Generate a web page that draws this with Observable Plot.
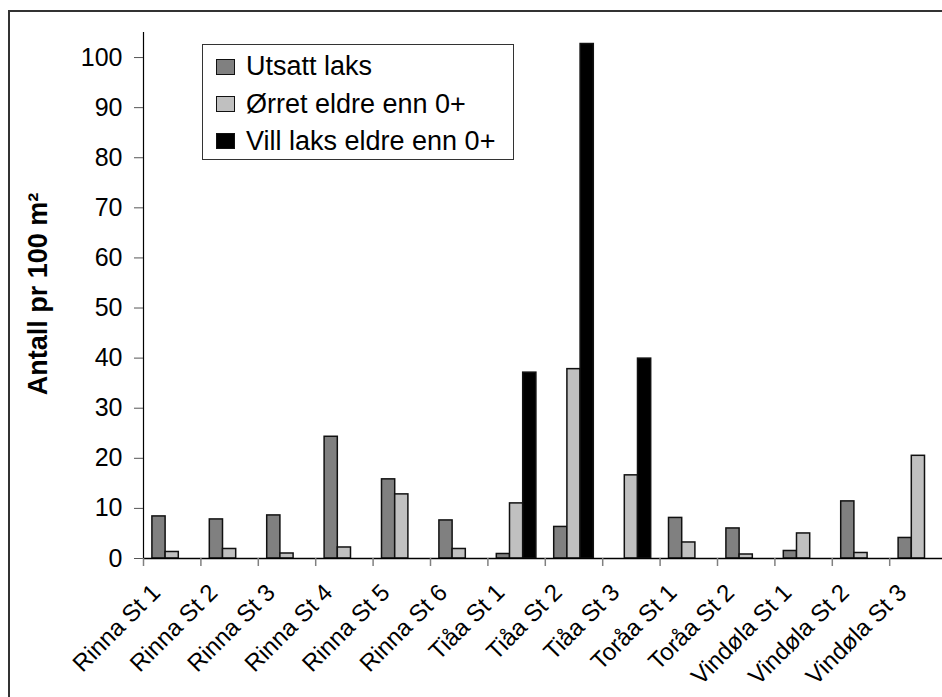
<!DOCTYPE html>
<html>
<head>
<meta charset="utf-8">
<script src="https://cdn.jsdelivr.net/npm/d3@7"></script>
<script src="https://cdn.jsdelivr.net/npm/@observablehq/plot@0.6"></script>
<style>
  html, body { margin: 0; padding: 0; background: #fff; overflow: hidden; }
  #wrap { position: relative; width: 942px; height: 697px; overflow: hidden; background: #fff;
          font-family: "Liberation Sans", Arial, sans-serif; }
  #wrap svg { position: absolute; left: 0; top: 0; }
  #frame { position: absolute; left: 8px; top: 10px; width: 1000px; height: 1000px;
           border: 2px solid #333; box-sizing: border-box; pointer-events: none; }
  #ytitle { position: absolute; left: 38px; top: 294px; transform: translate(-50%, -50%) rotate(-90deg);
            white-space: nowrap; font-weight: bold; font-size: 27px; color: #000; }
  #legend { position: absolute; left: 202px; top: 44px; width: 312px; height: 116px;
            border: 1px solid #333; background: #fff; box-sizing: border-box; padding-top: 3px; }
  .row { height: 37.4px; display: flex; align-items: center; font-size: 27px; color: #000; white-space: nowrap; }
  .sw { width: 17px; height: 14px; border: 1.5px solid #111; margin-left: 13px; margin-right: 11px; flex: none; }
</style>
</head>
<body>
<div id="wrap">
  <div id="frame"></div>
</div>
<script>
const categories = ["Rinna St 1", "Rinna St 2", "Rinna St 3", "Rinna St 4", "Rinna St 5", "Rinna St 6",
  "Tiåa St 1", "Tiåa St 2", "Tiåa St 3", "Toråa St 1", "Toråa St 2", "Vindøla St 1", "Vindøla St 2", "Vindøla St 3"];
const series = ["Utsatt laks", "Ørret eldre enn 0+", "Vill laks eldre enn 0+"];
const utsattLaks = [8.4, 7.8, 8.6, 24.3, 15.8, 7.6, 0.9, 6.3, 0, 8.1, 6.0, 1.5, 11.4, 4.1];
const orretEldre = [1.3, 1.9, 1.0, 2.2, 12.8, 1.9, 11.0, 37.8, 16.6, 3.2, 0.8, 5.0, 1.1, 20.5];
const villLaks   = [0, 0, 0, 0, 0, 0, 37.1, 102.7, 39.9, 0, 0, 0, 0, 0];
const yTicks = [0, 10, 20, 30, 40, 50, 60, 70, 80, 90, 100];
const colors = ["#808080", "#c0c0c0", "#000000"];
const yTitle = "Antall pr 100 m²";

const valuesBySeries = [utsattLaks, orretEldre, villLaks];
const data = categories.flatMap((c, i) =>
  series.map((s, j) => ({category: c, series: s, value: valuesBySeries[j][i]})));

const W = 942, H = 697, ML = 143, MR = -4.6, MT = 32, MB = 139;
const fw = (W - ML - MR) / categories.length;
const PO = 0.675;

const plot = Plot.plot({
  width: W, height: H,
  marginLeft: ML, marginRight: MR, marginTop: MT, marginBottom: MB,
  style: {fontFamily: "'Liberation Sans', Arial, sans-serif", background: "transparent", color: "#000"},
  fx: {domain: categories, padding: 0, round: false, label: null},
  x: {domain: series, paddingInner: 0, paddingOuter: PO, round: false, axis: null},
  y: {domain: [0, 105], label: null},
  color: {domain: series, range: colors},
  marks: [
    Plot.barY(data.filter(d => d.value > 0), {
      fx: "category", x: "series", y: "value", fill: "series", stroke: "#111", strokeWidth: 1.5
    }),
    Plot.ruleY([0], {stroke: "#000", strokeWidth: 1.5}),
    Plot.frame({anchor: "left", facetAnchor: "left", stroke: "#000", strokeWidth: 1.2}),
    Plot.axisY({ticks: yTicks, tickSize: 9, tickPadding: 12, fontSize: 25, label: null, stroke: "#555", fill: "#000"}),
    Plot.axisFx({anchor: "bottom", tickSize: 8, tickFormat: () => "", label: null, dx: -fw / 2, stroke: "#808080", strokeWidth: 1.5}),
    Plot.axisFx({anchor: "bottom", tickSize: 0, tickPadding: 30, tickRotate: -45, fontSize: 24, label: null, dx: -16, fill: "#000"})
  ]
});

const wrap = document.getElementById("wrap");
wrap.insertBefore(plot, wrap.firstChild);

const title = document.createElement("div");
title.id = "ytitle";
title.textContent = yTitle;
wrap.appendChild(title);

const legend = document.createElement("div");
legend.id = "legend";
series.forEach((s, i) => {
  const row = document.createElement("div");
  row.className = "row";
  const sw = document.createElement("span");
  sw.className = "sw";
  sw.style.background = colors[i];
  const label = document.createElement("span");
  label.textContent = s;
  row.appendChild(sw);
  row.appendChild(label);
  legend.appendChild(row);
});
wrap.appendChild(legend);
</script>
</body>
</html>
